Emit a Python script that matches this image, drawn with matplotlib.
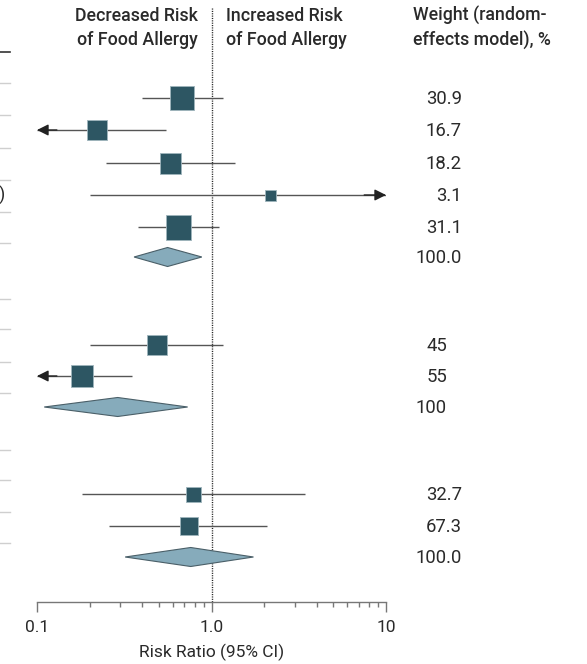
import matplotlib
matplotlib.use("Agg")
import matplotlib.pyplot as plt
from matplotlib.patches import Polygon
import numpy as np

# ---------------- data ----------------
weights = ["30.9", "16.7", "18.2", "3.1", "31.1", "100.0",
           "45", "55", "100",
           "32.7", "67.3", "100.0"]
# study estimates (risk ratio, lower CI, upper CI)
study_rr = [0.68, 0.22, 0.58, 2.17, 0.64, 0.49, 0.18, 0.78, 0.74]
study_lo = [0.40, 0.05, 0.25, 0.20, 0.38, 0.20, 0.05, 0.18, 0.26]
study_hi = [1.17, 0.55, 1.37, 14.0, 1.11, 1.17, 0.35, 3.45, 2.09]
# pooled estimates
pooled_rr = [0.56, 0.29, 0.76]
pooled_lo = [0.36, 0.11, 0.32]
pooled_hi = [0.88, 0.73, 1.74]
tick_vals = [0.1, 1.0, 10]
tick_labels = ["0.1", "1.0", "10"]

# ---------------- layout / style ----------------
W, H = 587, 664
study_y = [98, 130, 163, 195, 227, 345, 376, 494, 526]
pooled_y = [257, 407, 557]
weight_y = [98, 130, 163, 195, 227, 257, 345, 376, 407, 494, 526, 557]
weight_x = [462] * 6 + [447] * 3 + [462] * 3
box_px = [24, 20, 21, 11, 25, 20, 22, 15, 18]
sep_y = [83, 115, 148, 180, 212, 243, 299, 329, 362, 393, 450, 480, 512, 543]

FONT = ["Roboto", "DejaVu Sans"]
plt.rcParams["font.family"] = FONT
TXT = "#2a2a2a"
BOX = "#2d5663"
DIA = "#86abbb"
LINE = "#555555"

fig = plt.figure(figsize=(W / 100, H / 100), dpi=100)
ax = fig.add_axes([37 / W, (H - 602) / H, 349 / W, 602 / H])
ax.set_xscale("log")
ax.set_xlim(0.1, 10)
ax.set_ylim(602, 0)
for s in ["top", "left", "right"]:
    ax.spines[s].set_visible(False)
ax.spines["bottom"].set_color("#777777")
ax.spines["bottom"].set_linewidth(1.0)
ax.set_yticks([])
ax.set_xticks(tick_vals)
ax.set_xticklabels(tick_labels, fontsize=12.5, color=TXT)
ax.tick_params(axis="x", which="major", length=7, width=1, color="#777777", pad=6)
ax.tick_params(axis="x", which="minor", length=3.8, width=1, color="#777777")
ax.set_xlabel("Risk Ratio (95% CI)", fontsize=12.5, color=TXT, labelpad=6)

# reference line
ax.plot([1, 1], [8, 602], ls=(0, (0.8, 0.9)), color="#222222", lw=1, clip_on=False, zorder=1)

# study rows
for rr, lo, hi, y, b in zip(study_rr, study_lo, study_hi, study_y, box_px):
    lo_c, hi_c = max(lo, 0.1), min(hi, 10)
    ax.plot([lo_c, hi_c], [y, y], color=LINE, lw=1, zorder=2, solid_capstyle="butt")
    if lo < 0.1:
        ax.annotate("", xy=(0.1, y), xytext=(0.13, y),
                    arrowprops=dict(arrowstyle="-|>", color="#222222", lw=1,
                                    mutation_scale=17, shrinkA=0, shrinkB=0), zorder=3)
    if hi > 10:
        ax.annotate("", xy=(10, y), xytext=(7.5, y),
                    arrowprops=dict(arrowstyle="-|>", color="#222222", lw=1,
                                    mutation_scale=17, shrinkA=0, shrinkB=0), zorder=3)
    ax.scatter([rr], [y], marker="s", s=(b * 0.72) ** 2, color=BOX,
               edgecolor="#9fb5bd", linewidth=0.6, zorder=4)

# pooled diamonds
for rr, lo, hi, y in zip(pooled_rr, pooled_lo, pooled_hi, pooled_y):
    h = 9.5
    poly = Polygon([(lo, y), (rr, y - h), (hi, y), (rr, y + h)], closed=True,
                   facecolor=DIA, edgecolor="#4a5f68", lw=0.8, zorder=4)
    ax.add_patch(poly)

# headers
def fx(px):
    return px / W

def fy(py):
    return 1 - py / H

hdr = dict(fontsize=12.8, color=TXT, fontweight="medium", va="center", linespacing=1.45)
fig.text(fx(198), fy(28), "Decreased Risk\nof Food Allergy", ha="right", **hdr)
fig.text(fx(226), fy(28), "Increased Risk\nof Food Allergy", ha="left", **hdr)
fig.text(fx(413), fy(28), "Weight (random-\neffects model), %", ha="left", **hdr)

for w, x, y in zip(weights, weight_x, weight_y):
    fig.text(fx(x), fy(y + 1), w, ha="right", va="center", fontsize=13.3, color=TXT)

# remnants of left table separators
fig.add_artist(plt.Line2D([0, fx(10)], [fy(52), fy(52)], color="#333333", lw=1.2))
for y in sep_y:
    fig.add_artist(plt.Line2D([0, fx(10)], [fy(y), fy(y)], color="#cfcfcf", lw=1))
fig.text(fx(5), fy(195), ")", ha="right", va="center", fontsize=13, color=TXT)

fig.savefig("out.png", dpi=100)
